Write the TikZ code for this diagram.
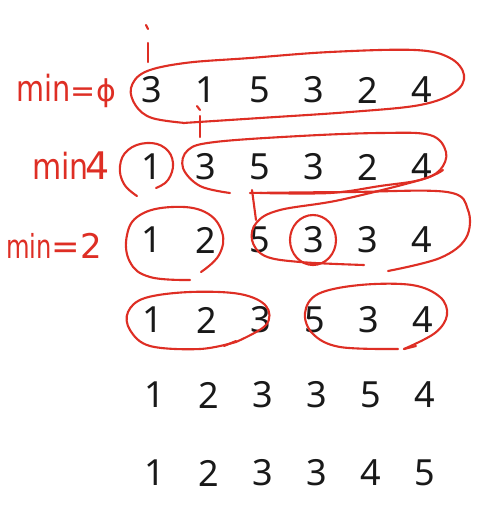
\documentclass[tikz,border=0pt]{standalone}
\usepackage{fontspec}
\setmainfont{Noto Sans}
\newfontfamily\handfont{DejaVu Sans}
\definecolor{pen}{RGB}{222,46,36}
\newcommand{\tallmin}[2]{\scalebox{#2}[1.5]{\fontsize{#1}{26}\selectfont min}}
\begin{document}
\begin{tikzpicture}[x=1pt,y=-1pt,
  digit/.style={font=\fontsize{36}{40}\selectfont, text=black!90, inner sep=0pt},
  ink/.style={draw=pen, line width=2.1pt, line cap=round, line join=round},
  lbl/.style={text=pen, inner sep=0pt, anchor=east, font=\handfont}]
\useasboundingbox (0,0) rectangle (488,512);
\fill[white] (0,0) rectangle (488,512);
% rows of digits
\foreach \row/\yy/\dx/\vals in {1/90/0/{3,1,5,3,2,4},2/167/0/{1,3,5,3,2,4},3/240/0/{1,2,5,3,3,4},4/320/1/{1,2,3,5,3,4},5/395/3/{1,2,3,3,5,4},6/473/3/{1,2,3,3,4,5}}{
  \foreach \v [count=\c] in \vals {
    \node[digit] (r\row c\c) at ({152+\dx+(\c-1)*54}, \yy) {\v};
  }
}
% labels
\node[lbl] (l1) at (116,91) {\tallmin{24}{1.2}{\fontsize{30}{32}\selectfont =ϕ}};
\node[lbl] (l2) at (110,166) {\tallmin{24}{1.25}\hspace{-3pt}{\fontsize{38}{40}\selectfont 4}};
\node[lbl] (l3) at (102,246) {\tallmin{22}{1.1}{\fontsize{34}{36}\selectfont =2}};
% row 1 pointer marks
\draw[ink] (146,25) -- (148,29);
\draw[ink] (148,43) -- (148,62);
\draw[ink] (197,106) -- (200,110);
\draw[ink] (200,116) -- (200,137);
% row 1 big loop
\draw[ink] plot[smooth, tension=0.6] coordinates {(183,123) (260,118) (350,112) (420,105) (455,92) (464,75) (450,58) (415,50) (330,52) (250,58) (185,63) (145,72) (131,88) (136,106) (152,118) (185,123)};
% row 2 loops
\draw[ink] plot[smooth, tension=0.7] coordinates {(137,196) (124,184) (120,166) (128,150) (147,143) (165,148) (173,163) (168,180) (156,188)};
\draw[ink] plot[smooth, tension=0.6] coordinates {(230,193) (200,186) (183,168) (188,150) (215,142) (300,136) (380,133) (430,135) (446,152) (440,170) (420,180) (380,186) (330,193) (260,193)};
% row 3 pointer
\draw[ink] (252,190) -- (256,220);
% row 3 loops
\draw[ink] plot[smooth, tension=0.7] coordinates {(190,280) (150,277) (130,262) (127,235) (140,215) (172,207) (205,212) (222,232) (219,255) (201,272)};
\draw[ink] (313,240) ellipse [x radius=23, y radius=25];
\draw[ink] plot[smooth, tension=0.6] coordinates {(443,170) (420,180) (340,200) (280,210) (257,222) (252,240) (265,256) (300,262) (364,265)};
\draw[ink] plot[smooth, tension=0.6] coordinates {(250,193) (350,192) (447,192) (468,210) (466,238) (440,258) (388,271)};
% row 4 loops
\draw[ink] plot[smooth, tension=0.6] coordinates {(236,342) (200,349) (150,346) (130,330) (128,312) (145,298) (190,292) (240,294) (266,306) (266,325) (236,342)};
\draw[ink] (224,346) -- (236,341);
\draw[ink] plot[smooth, tension=0.6] coordinates {(398,349) (340,347) (313,334) (305,313) (318,294) (360,285) (412,285) (440,297) (447,315) (435,333) (404,349)};
\draw[ink] (404,349) -- (416,346);
\end{tikzpicture}
\end{document}
